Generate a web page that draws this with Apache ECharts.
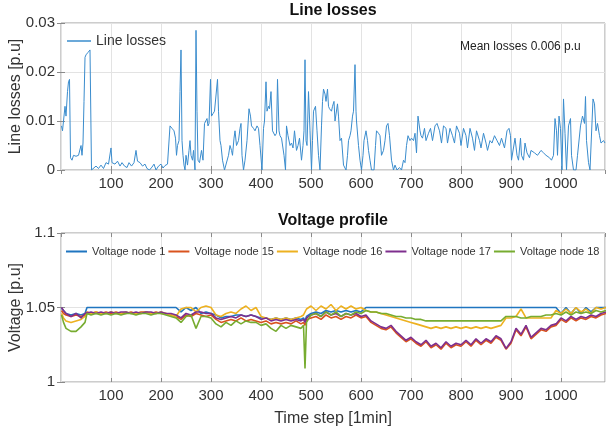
<!DOCTYPE html>
<html><head><meta charset="utf-8">
<script src="https://cdn.jsdelivr.net/npm/echarts@6/dist/echarts.min.js"></script>
<style>html,body{margin:0;padding:0;background:#fff}#c{width:606px;height:434px}</style>
</head><body><div id="c"></div>
<script>
// ---- Line losses [step, p.u] ----
const lossPoints = [
[1,.009],[3,.008],[5,.010],[8,.013],[10,.011],[13,.016],[15,.018],[17,.0185],[19,.0025],[22,.002],
[25,.003],[30,.0028],[35,.003],[38,.0028],[40,.005],[42,.003],[44,.0055],[46,.014],[48,.023],[50,.0235],
[54,.024],[58,.0245],[60,.0245],[61,0],[65,.0003],[70,.0008],[75,.0003],[80,.001],[85,.0003],[90,.0015],
[95,.0012],[98,.0015],[100,.0045],[102,.0015],[108,.0012],[113,.0018],[118,.0008],[122,.0015],[127,.0008],[132,.0005],
[136,.0015],[141,.0008],[146,.0015],[150,.004],[153,.0018],[158,.0015],[163,.0008],[168,.0012],[172,.0003],[177,0],
[182,.0006],[186,.0012],[190,0],[195,.0008],[200,.0012],[204,.0004],[208,.0009],[213,.0012],[217,.0015],[218,.009],
[222,.0085],[226,.008],[229,.0065],[231,.003],[233,.005],[236,.006],[238,.016],[240,.0245],[242,.006],[244,.003],
[246,.001],[248,0],[250,.003],[253,.001],[256,.004],[258,.006],[260,.003],[263,.002],[265,.004],[268,0],
[270,.0285],[272,.012],[274,.002],[277,.0015],[281,.004],[284,.002],[287,.0095],[290,.0095],[292,.0105],[294,.009],
[296,.0095],[299,.0185],[301,.011],[304,.0115],[307,.012],[310,.012],[313,.0185],[315,.012],[318,.006],[320,.005],
[323,.002],[327,0],[331,0],[335,.003],[338,.005],[341,.004],[343,.003],[346,.0065],[348,.008],[351,.005],
[355,.006],[358,.0085],[360,.0095],[362,.003],[365,0],[368,.002],[372,.006],[376,.0125],[379,.011],[381,.009],
[385,.0085],[388,.008],[392,.009],[395,.0085],[398,.005],[402,0],[405,.0085],[407,.010],[410,.018],[412,.012],
[415,.013],[417,.0125],[420,.016],[423,.008],[428,.007],[431,.0075],[433,.0185],[436,.008],[438,.007],[441,.0065],
[446,.003],[449,0],[451,.009],[454,.007],[458,.005],[461,.0055],[464,.0045],[467,.008],[471,.004],[474,.005],
[477,.0065],[481,.002],[484,.005],[486,.008],[488,.0225],[490,.006],[492,.005],[495,.016],[498,.008],[501,0],
[503,.006],[505,.012],[509,.013],[512,.008],[515,.003],[518,0],[521,.009],[523,.014],[525,.0165],[528,.0155],
[530,.014],[533,.0165],[535,.013],[537,.0125],[541,.012],[543,.013],[546,.014],[548,.010],[551,.010],[553,.0135],
[555,.011],[558,.006],[561,.0065],[565,.001],[570,0],[573,.003],[575,.006],[578,.007],[580,.008],[583,.011],
[585,.012],[588,.0215],[590,.012],[591,.010],[595,.005],[598,.002],[601,0],[604,.003],[606,.006],[610,.008],
[613,.006],[615,.004],[618,.002],[621,0],[626,0],[629,.005],[631,.008],[635,.0075],[638,.007],[641,.003],
[645,.004],[648,.006],[651,.009],[654,.0095],[657,.007],[661,.002],[665,0],[668,.001],[672,0],[677,.0005],
[681,0],[685,.002],[688,.0015],[691,.005],[694,.007],[698,.006],[701,.0065],[705,.006],[708,.0075],[711,.0035],
[714,.011],[718,.008],[720,.007],[723,.0065],[727,.0085],[730,.006],[735,.0075],[739,.0085],[743,.006],[748,.009],
[752,.0095],[757,.008],[761,.0055],[765,.009],[770,.0085],[773,.0055],[778,.0085],[783,.007],[787,.0055],[791,.009],
[797,.0075],[800,.005],[805,.0085],[810,.007],[813,.0045],[818,.0085],[823,.0065],[827,.004],[831,.008],[837,.006],
[840,.0045],[845,.0075],[850,.0055],[853,.004],[858,.006],[862,.0055],[867,.007],[872,.006],[877,.005],[881,.0065],
[887,.0045],[892,.008],[896,.0085],[899,.007],[901,.002],[905,.002],[908,.0065],[912,.003],[915,.002],[919,.0065],
[921,.003],[925,.002],[928,.0055],[932,.0035],[937,.0025],[940,.004],[947,.0035],[953,.003],[960,.004],[965,.0035],
[970,.003],[977,.0025],[981,.002],[985,.003],[988,.0105],[991,.008],[993,.003],[996,.011],[999,.0085],[1002,0],
[1005,.0145],[1008,.0075],[1011,0],[1015,.009],[1019,.0105],[1021,.003],[1025,0],[1030,0],[1033,.003],[1039,.009],
[1043,.011],[1047,.0095],[1049,.015],[1051,.006],[1055,.0015],[1058,0],[1061,0],[1064,.0145],[1067,.0135],[1070,.008],
[1073,.0095],[1077,.007],[1080,.0055],[1085,.006],[1088,.0055]
];

// ---- Voltage profile, shared time steps ----
const vSteps = [
1,5,10,20,30,40,48,52,
60,70,80,90,100,110,120,130,140,150,
160,170,180,190,200,210,220,230,240,250,
260,270,280,290,300,310,320,330,340,350,
360,370,380,390,400,410,420,430,440,450,
460,470,480,485,488,491,
500,510,520,530,540,550,560,570,580,590,
600,610,620,630,640,650,660,670,680,690,
700,710,720,730,740,750,760,770,780,790,
800,810,820,830,840,850,860,870,880,890,
900,910,920,930,940,950,960,970,980,990,
1000,1010,1020,1030,1040,1050,1060,1070,1080,1090
];
const vNode1 = [
1.0495,1.048,1.046,1.045,1.046,1.045,1.046,1.05,
1.05,1.05,1.05,1.05,1.05,1.05,1.05,1.05,1.05,1.05,
1.05,1.05,1.05,1.05,1.05,1.05,1.05,1.05,1.047,1.05,
1.048,1.05,1.046,1.047,1.046,1.045,1.043,1.044,1.044,1.045,
1.045,1.044,1.045,1.044,1.043,1.043,1.042,1.043,1.042,1.043,
1.042,1.043,1.042,1.043,1.041,1.044,
1.046,1.047,1.046,1.048,1.047,1.048,1.047,1.048,1.047,1.048,
1.047,1.05,1.05,1.05,1.05,1.05,1.05,1.05,1.05,1.05,
1.05,1.05,1.05,1.05,1.05,1.05,1.05,1.05,1.05,1.05,
1.05,1.05,1.05,1.05,1.05,1.05,1.05,1.05,1.05,1.05,
1.05,1.05,1.05,1.05,1.05,1.05,1.05,1.05,1.05,1.05,
1.046,1.05,1.046,1.05,1.046,1.05,1.047,1.05,1.05,1.05
];
const vNode15 = [
1.048,1.046,1.045,1.044,1.045,1.044,1.045,1.047,
1.046,1.047,1.046,1.047,1.046,1.047,1.046,1.046,1.047,1.046,
1.047,1.047,1.046,1.047,1.046,1.046,1.045,1.044,1.042,1.045,
1.044,1.046,1.045,1.044,1.045,1.042,1.040,1.041,1.042,1.041,
1.043,1.041,1.042,1.041,1.040,1.041,1.039,1.040,1.039,1.040,
1.039,1.041,1.039,1.040,1.038,1.042,
1.043,1.044,1.042,1.045,1.043,1.044,1.042,1.044,1.043,1.045,
1.043,1.044,1.040,1.038,1.036,1.035,1.037,1.033,1.030,1.027,
1.029,1.026,1.024,1.027,1.023,1.025,1.022,1.026,1.023,1.025,
1.024,1.027,1.024,1.028,1.025,1.028,1.026,1.030,1.028,1.022,
1.026,1.035,1.031,1.037,1.029,1.032,1.035,1.034,1.037,1.038,
1.042,1.040,1.043,1.041,1.043,1.042,1.044,1.043,1.045,1.046
];
const vNode16 = [
1.046,1.043,1.041,1.040,1.041,1.042,1.044,1.046,
1.046,1.047,1.046,1.046,1.047,1.046,1.046,1.047,1.046,1.046,
1.046,1.047,1.046,1.046,1.047,1.046,1.045,1.044,1.049,1.050,
1.050,1.047,1.050,1.051,1.050,1.045,1.044,1.046,1.047,1.046,
1.049,1.051,1.048,1.050,1.044,1.043,1.042,1.043,1.042,1.043,
1.042,1.043,1.044,1.045,1.045,1.049,
1.051,1.048,1.051,1.049,1.052,1.048,1.051,1.049,1.051,1.049,
1.050,1.048,1.047,1.047,1.046,1.045,1.044,1.043,1.042,1.041,
1.040,1.039,1.038,1.037,1.036,1.037,1.036,1.037,1.036,1.037,
1.036,1.037,1.036,1.037,1.036,1.037,1.036,1.037,1.038,1.043,
1.043,1.044,1.049,1.043,1.043,1.043,1.043,1.043,1.043,1.048,
1.046,1.049,1.046,1.050,1.047,1.049,1.046,1.050,1.049,1.050
];
const vNode17 = [
1.050,1.048,1.046,1.044,1.046,1.043,1.046,1.047,
1.047,1.046,1.047,1.046,1.047,1.046,1.047,1.047,1.046,1.047,
1.046,1.047,1.047,1.046,1.047,1.046,1.046,1.045,1.043,1.046,
1.045,1.047,1.047,1.046,1.046,1.043,1.042,1.043,1.044,1.043,
1.045,1.044,1.045,1.044,1.042,1.043,1.041,1.042,1.041,1.042,
1.041,1.042,1.041,1.042,1.040,1.043,
1.045,1.046,1.044,1.047,1.045,1.046,1.044,1.046,1.045,1.046,
1.044,1.045,1.041,1.039,1.037,1.036,1.038,1.034,1.031,1.028,
1.030,1.027,1.025,1.028,1.024,1.026,1.023,1.027,1.024,1.026,
1.025,1.028,1.025,1.029,1.026,1.029,1.027,1.031,1.029,1.0225,
1.027,1.036,1.032,1.038,1.030,1.033,1.036,1.035,1.038,1.039,
1.043,1.041,1.044,1.042,1.044,1.043,1.045,1.044,1.046,1.047
];
const vNode18 = [
1.045,1.040,1.036,1.034,1.034,1.037,1.040,1.046,
1.045,1.046,1.045,1.046,1.045,1.046,1.045,1.046,1.046,1.045,
1.046,1.046,1.045,1.046,1.046,1.045,1.044,1.043,1.040,1.044,
1.045,1.036,1.044,1.044,1.043,1.039,1.037,1.040,1.038,1.041,
1.039,1.041,1.040,1.040,1.038,1.039,1.036,1.034,1.038,1.036,
1.038,1.037,1.036,1.038,1.009,1.040,
1.045,1.046,1.044,1.047,1.045,1.047,1.044,1.046,1.045,1.047,
1.046,1.048,1.047,1.047,1.046,1.046,1.045,1.044,1.044,1.043,
1.043,1.042,1.042,1.041,1.041,1.041,1.041,1.041,1.041,1.041,
1.041,1.041,1.041,1.041,1.041,1.041,1.041,1.041,1.041,1.044,
1.044,1.044,1.043,1.043,1.044,1.044,1.044,1.045,1.045,1.046,
1.045,1.047,1.045,1.047,1.046,1.047,1.046,1.048,1.047,1.048
];
const voltageNames = ['Voltage node 1','Voltage node 15','Voltage node 16','Voltage node 17','Voltage node 18'];
const voltageSeries = [vNode1, vNode15, vNode16, vNode17, vNode18];
const voltageColors = ['#1f75c0','#d9531e','#edb120','#7e2f8e','#77ac30'];
const lossTickLabels = ['0','0.01','0.02','0.03'];
const voltTickLabels = ['1','1.05','1.1'];

const FONT = 'Liberation Sans, Arial, sans-serif';
const chart = echarts.init(document.getElementById('c'), null, {renderer:'canvas'});

function xAx(grid, bottom, extra) {
  return Object.assign({
    type:'value', gridIndex:grid, min:0, max:1088, interval:100,
    position: bottom ? 'bottom' : 'top',
    axisLine:{show:false},
    axisTick:{show:true, inside:true, length:4, lineStyle:{color:'#8a8a8a'}},
    axisLabel:{show:bottom, showMinLabel:false, showMaxLabel:false, fontSize:15, color:'#333', fontFamily:FONT, margin:6,
      formatter: v => String(Math.round(v))},
    splitLine:{show:bottom, lineStyle:{color:'#e3e3e3', width:1}}
  }, extra||{});
}
function yAx(grid, left, min, max, interval, labels, extra) {
  return Object.assign({
    type:'value', gridIndex:grid, min:min, max:max, interval:interval,
    position: left ? 'left' : 'right',
    axisLine:{show:false},
    axisTick:{show:true, inside:true, length:4, lineStyle:{color:'#8a8a8a'}},
    axisLabel:{show:left, fontSize:15, color:'#333', fontFamily:FONT, margin:6,
      formatter: v => labels[Math.round((v-min)/interval)]},
    splitLine:{show:left, lineStyle:{color:'#e3e3e3', width:1}}
  }, extra||{});
}

const option = {
  animation:false,
  backgroundColor:'#fff',
  textStyle:{fontFamily:FONT},
  title:[
    {text:'Line losses', left:333, top:3, textAlign:'center', padding:0,
     textStyle:{fontSize:16, fontWeight:'bold', color:'#111', fontFamily:FONT}},
    {text:'Voltage profile', left:333, top:213, textAlign:'center', padding:0,
     textStyle:{fontSize:16, fontWeight:'bold', color:'#111', fontFamily:FONT}},
    {text:'Mean losses 0.006 p.u', left:460, top:41, padding:0,
     textStyle:{fontSize:12, fontWeight:'normal', color:'#222', fontFamily:FONT}}
  ],
  legend:[
    {data:['Line losses'], left:67, top:34, itemWidth:24, itemHeight:1.5, icon:'rect', padding:0,
     textStyle:{fontSize:14, color:'#333', fontFamily:FONT}},
    {data:voltageNames, left:66, top:246, itemWidth:21, itemHeight:2, icon:'rect', itemGap:3, padding:0,
     textStyle:{fontSize:11, color:'#333', fontFamily:FONT}}
  ],
  grid:[
    {left:61, top:23, width:544, height:147, show:true, borderColor:'#9a9a9a', borderWidth:1, backgroundColor:'#fff',
     outerBoundsMode:'none', containLabel:false},
    {left:61, top:233, width:544, height:149, show:true, borderColor:'#9a9a9a', borderWidth:1, backgroundColor:'#fff',
     outerBoundsMode:'none', containLabel:false}
  ],
  xAxis:[
    xAx(0,true), xAx(0,false),
    xAx(1,true,{name:'Time step [1min]', nameLocation:'middle', nameGap:29,
      nameTextStyle:{fontSize:16, color:'#333', fontFamily:FONT}}),
    xAx(1,false)
  ],
  yAxis:[
    yAx(0,true,0,0.03,0.01,lossTickLabels,{name:'Line losses [p.u]', nameLocation:'middle', nameGap:37, nameMoveOverlap:false,
      nameTextStyle:{fontSize:16, color:'#333', fontFamily:FONT}}),
    yAx(0,false,0,0.03,0.01,lossTickLabels),
    yAx(1,true,1,1.1,0.05,voltTickLabels,{name:'Voltage [p.u]', nameLocation:'middle', nameGap:37, nameMoveOverlap:false,
      nameTextStyle:{fontSize:16, color:'#333', fontFamily:FONT}}),
    yAx(1,false,1,1.1,0.05,voltTickLabels)
  ],
  series:[
    {name:'Line losses', type:'line', xAxisIndex:0, yAxisIndex:0, data:lossPoints,
     symbol:'none', lineStyle:{color:'#3a8ccd', width:1}, itemStyle:{color:'#3a8ccd'}}
  ].concat(voltageSeries.map((vals,k)=>({
     name:voltageNames[k], type:'line', xAxisIndex:2, yAxisIndex:2,
     data:vSteps.map((s,i)=>[s, vals[i]]), symbol:'none',
     lineStyle:{color:voltageColors[k], width:1.6}, itemStyle:{color:voltageColors[k]}
  })))
};
chart.setOption(option);
</script></body></html>
